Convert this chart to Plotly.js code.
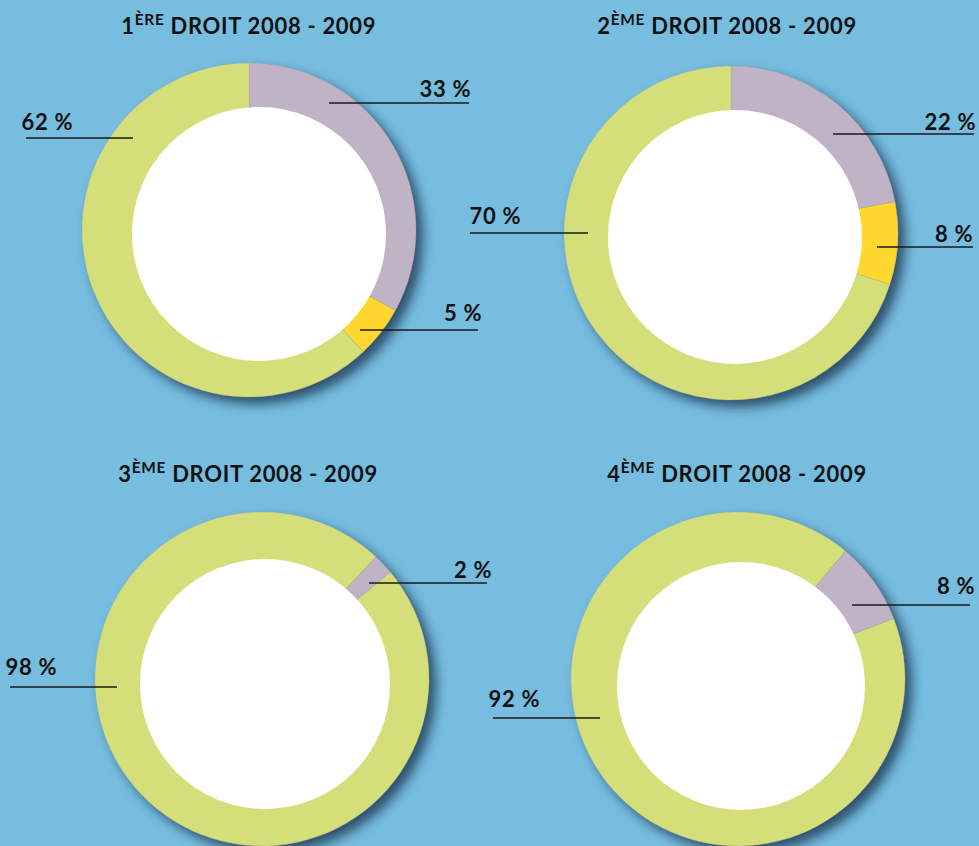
<!DOCTYPE html>
<html>
<head>
<meta charset="utf-8">
<script src="https://cdn.plot.ly/plotly-3.0.1.min.js"></script>
<style>
html,body{margin:0;padding:0;background:#77BDE0;}
#chart{width:979px;height:846px;}
#chart .annotation-text{letter-spacing:0.7px;}
</style>
</head>
<body>
<div id="chart"></div>
<script>
// ---------- DATA ----------
const categories = ['Catégorie 1', 'Catégorie 2', 'Catégorie 3'];
const chartTitles = [
  '1<sup>ÈRE</sup> DROIT 2008 - 2009',
  '2<sup>ÈME</sup> DROIT 2008 - 2009',
  '3<sup>ÈME</sup> DROIT 2008 - 2009',
  '4<sup>ÈME</sup> DROIT 2008 - 2009'
];
const values1 = [33, 5, 62];
const values2 = [22, 8, 70];
const values3 = [2, 0, 98];
const values4 = [8, 0, 92];
const allValues = [values1, values2, values3, values4];

// ---------- STYLE / LAYOUT CONFIG ----------
const W = 979, H = 846;
const sliceColors = ['#C1B3C6', '#FFD72E', '#D5DF7A'];
const bg = '#77BDE0';
const R = 167;
const centers = [[249, 230], [731, 233], [262, 679], [738, 679]];
const holeCenters = [[259, 234], [735, 237], [265, 684], [741, 686]];
const holeRadii = [127, 127, 125, 124];
const rotations = [0, 0, 43, 40];
const titlePos = [[249, 24], [727, 24], [248, 472], [737, 472]];
// label placement per chart, per category index: [side, textEdgeX, textCenterY, lineX0, lineX1, lineY]
const labelPos = [
  {0: ['right', 471, 89, 329, 469, 103], 1: ['right', 482, 313, 360, 478, 330], 2: ['left', 22, 122, 26, 133, 138]},
  {0: ['right', 976, 121, 833, 974, 134], 1: ['right', 973, 233, 877, 973, 247], 2: ['left', 470, 216, 470, 588, 233]},
  {0: ['right', 492, 569, 369, 487, 583], 2: ['left', 6, 666, 10, 117, 687]},
  {0: ['right', 975, 585, 852, 970, 605], 2: ['left', 489, 698, 493, 600, 718]}
];
const fontFam = 'Lato, "Open Sans", sans-serif';

const px = x => x / W;
const py = y => 1 - y / H;

function domainFor(c, r) {
  return {
    x: [Math.max(0, px(c[0] - r)), Math.min(1, px(c[0] + r))],
    y: [Math.max(0, py(c[1] + r)), Math.min(1, py(c[1] - r))]
  };
}

const traces = [];
// full pies (carry the shadow)
allValues.forEach((vals, i) => {
  traces.push({
    type: 'pie', values: vals, labels: categories, sort: false,
    direction: 'clockwise', rotation: rotations[i],
    marker: {colors: sliceColors, line: {width: 0.6, color: 'rgba(150,150,150,0.35)'}},
    textinfo: 'none', hoverinfo: 'label+value', showlegend: false,
    domain: domainFor(centers[i], R)
  });
});
// white centre discs on top
holeCenters.forEach((c, i) => {
  traces.push({
    type: 'pie', values: [1], labels: ['centre'], sort: false,
    marker: {colors: ['#FFFFFF'], line: {width: 0}},
    textinfo: 'none', hoverinfo: 'skip', showlegend: false,
    domain: domainFor(c, holeRadii[i])
  });
});

const annotations = [];
const shapes = [];
chartTitles.forEach((t, i) => {
  annotations.push({
    xref: 'paper', yref: 'paper', x: px(titlePos[i][0]), y: py(titlePos[i][1]),
    xanchor: 'center', yanchor: 'middle', showarrow: false, text: t,
    font: {family: fontFam, size: 22, color: '#111111', weight: 700}
  });
});
allValues.forEach((vals, i) => {
  Object.keys(labelPos[i]).forEach(k => {
    const p = labelPos[i][k];
    annotations.push({
      xref: 'paper', yref: 'paper', x: px(p[1]), y: py(p[2]),
      xanchor: p[0], yanchor: 'middle', showarrow: false,
      text: vals[k] + ' %', borderpad: 0,
      font: {family: fontFam, size: 22, color: '#111111', weight: 700}
    });
    shapes.push({
      type: 'line', xref: 'paper', yref: 'paper',
      x0: px(p[3]), x1: px(p[4]), y0: py(p[5]), y1: py(p[5]),
      line: {color: '#1a1a1a', width: 1.6}
    });
  });
});

const layout = {
  width: W, height: H,
  margin: {l: 0, r: 0, t: 0, b: 0},
  paper_bgcolor: bg, plot_bgcolor: bg,
  showlegend: false,
  annotations: annotations,
  shapes: shapes
};

Plotly.newPlot('chart', traces, layout, {displayModeBar: false, staticPlot: true}).then(gd => {
  const svg = gd.querySelector('svg.main-svg');
  const ns = 'http://www.w3.org/2000/svg';
  let defs = svg.querySelector('defs');
  if (!defs) { defs = document.createElementNS(ns, 'defs'); svg.insertBefore(defs, svg.firstChild); }
  const f = document.createElementNS(ns, 'filter');
  f.setAttribute('id', 'donutShadow');
  f.setAttribute('x', '-20%'); f.setAttribute('y', '-20%');
  f.setAttribute('width', '150%'); f.setAttribute('height', '150%');
  const ds = document.createElementNS(ns, 'feDropShadow');
  ds.setAttribute('dx', '7'); ds.setAttribute('dy', '7');
  ds.setAttribute('stdDeviation', '6');
  ds.setAttribute('flood-color', '#1a3550');
  ds.setAttribute('flood-opacity', '0.8');
  f.appendChild(ds);
  defs.appendChild(f);
  const groups = gd.querySelectorAll('.pielayer .trace');
  for (let i = 0; i < 4 && i < groups.length; i++) {
    groups[i].setAttribute('filter', 'url(#donutShadow)');
  }
});
</script>
</body>
</html>
